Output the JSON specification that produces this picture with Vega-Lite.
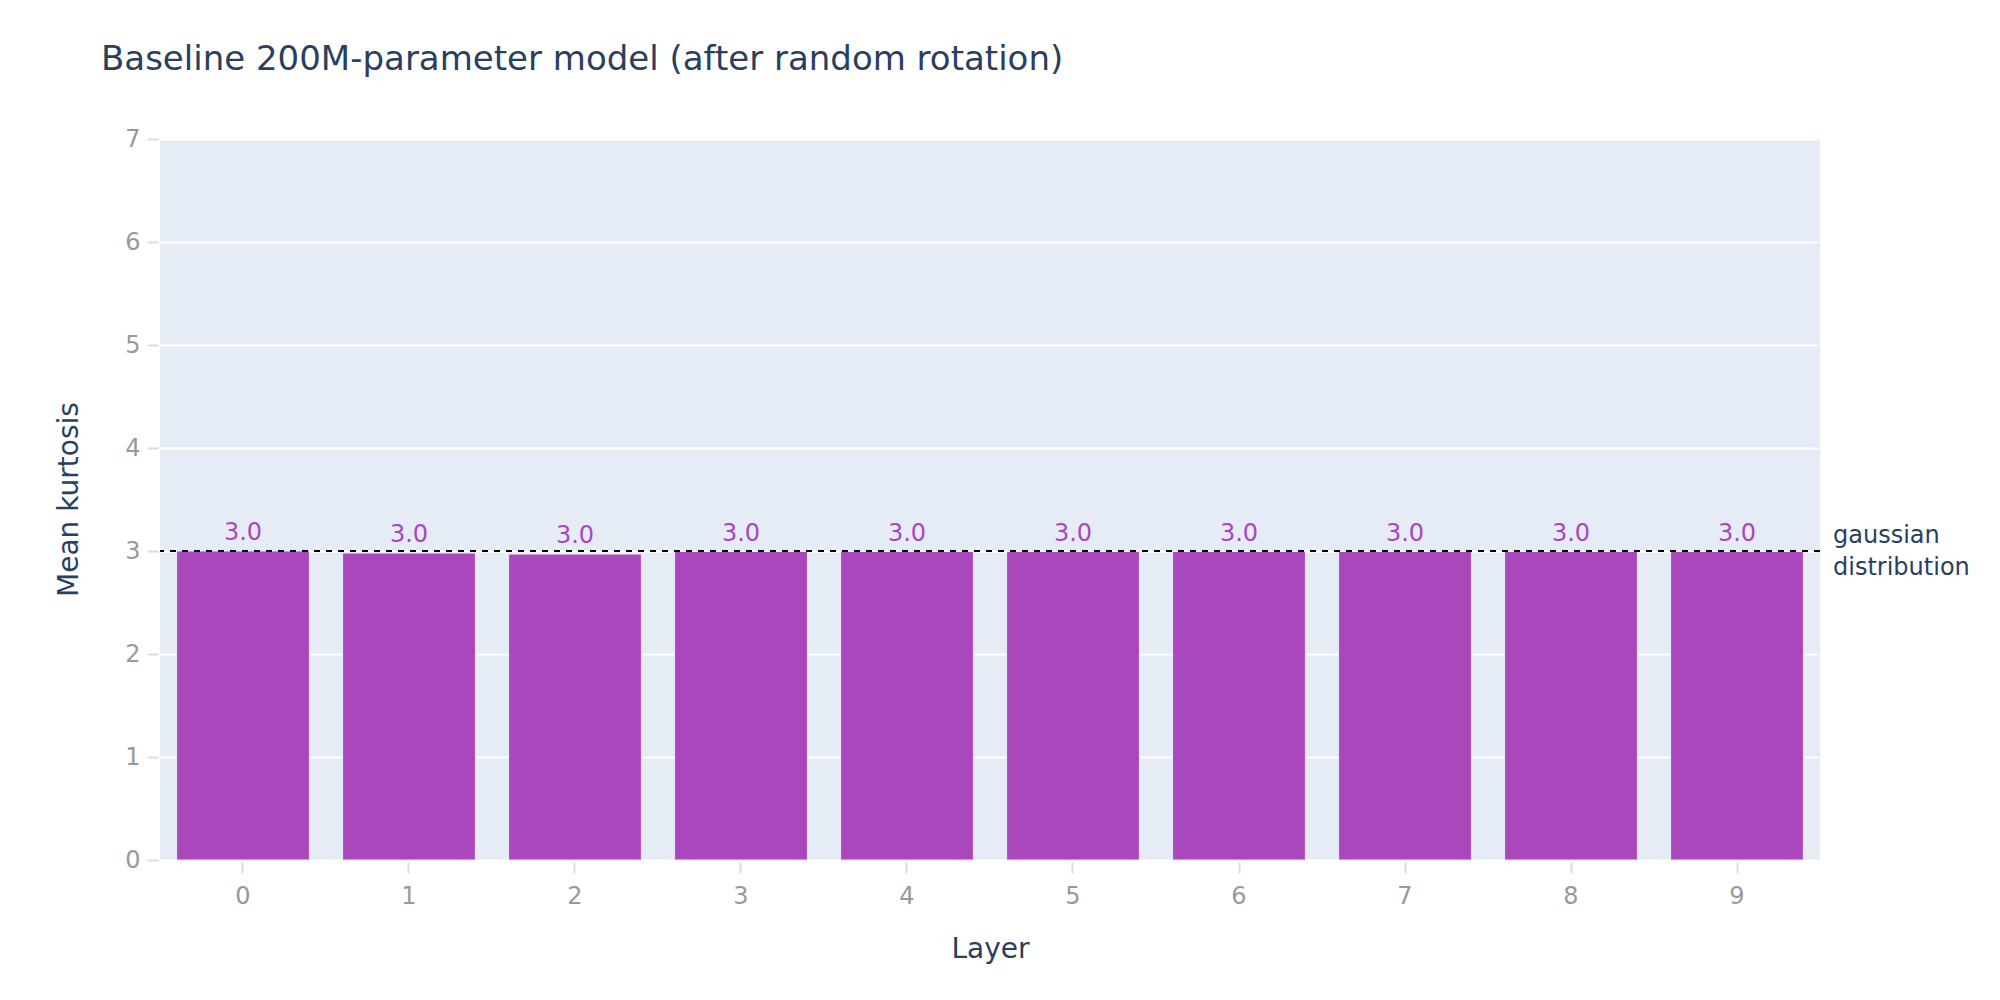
{
  "$schema": "https://vega.github.io/schema/vega-lite/v6.json",
  "autosize": {"type": "none"},
  "padding": {"left": 160, "top": 139, "right": 180, "bottom": 140},
  "width": 1660,
  "height": 721,
  "background": "#ffffff",
  "title": {
    "text": "Baseline 200M-parameter model (after random rotation)",
    "anchor": "start",
    "frame": "group",
    "dx": -59,
    "offset": 50,
    "font": "DejaVu Sans",
    "fontSize": 34,
    "fontWeight": "normal",
    "color": "#2a3f5f"
  },
  "datasets": {
    "kurtosis": [
      {"layer": 0, "kurtosis": 3.0},
      {"layer": 1, "kurtosis": 2.98},
      {"layer": 2, "kurtosis": 2.97},
      {"layer": 3, "kurtosis": 2.995},
      {"layer": 4, "kurtosis": 2.995},
      {"layer": 5, "kurtosis": 2.995},
      {"layer": 6, "kurtosis": 2.995},
      {"layer": 7, "kurtosis": 2.995},
      {"layer": 8, "kurtosis": 2.995},
      {"layer": 9, "kurtosis": 2.995}
    ],
    "reference": [
      {"layer": 9, "level": 3, "note": "gaussian\ndistribution"}
    ]
  },
  "encoding": {
    "x": {"field": "layer", "type": "ordinal", "title": "Layer"},
    "y": {
      "field": "kurtosis",
      "type": "quantitative",
      "title": "Mean kurtosis",
      "scale": {"domain": [0, 7]},
      "axis": {"values": [0, 1, 2, 3, 4, 5, 6, 7], "format": "d"}
    }
  },
  "layer": [
    {
      "data": {"name": "kurtosis"},
      "mark": {"type": "bar", "color": "#AB47BC", "stroke": "#E5ECF6", "strokeWidth": 1}
    },
    {
      "data": {"name": "kurtosis"},
      "mark": {"type": "text", "color": "#AB47BC", "font": "DejaVu Sans", "fontSize": 24, "baseline": "alphabetic", "align": "center", "dy": -11},
      "encoding": {
        "text": {"field": "kurtosis", "type": "quantitative", "format": ".1f"}
      }
    },
    {
      "data": {"name": "reference"},
      "mark": {"type": "rule", "color": "#000000", "strokeWidth": 2, "strokeDash": [6, 6]},
      "encoding": {
        "x": null,
        "y": {"field": "level", "type": "quantitative"}
      }
    },
    {
      "data": {"name": "reference"},
      "mark": {"type": "text", "color": "#2a3f5f", "font": "DejaVu Sans", "fontSize": 24, "align": "left", "baseline": "middle", "lineBreak": "\n", "lineHeight": 32, "dx": 96, "dy": -15},
      "encoding": {
        "y": {"field": "level", "type": "quantitative"},
        "text": {"field": "note", "type": "nominal"}
      }
    }
  ],
  "config": {
    "view": {"fill": "#E5ECF6", "stroke": null},
    "scale": {"bandPaddingInner": 0.2, "bandPaddingOuter": 0.1},
    "axisX": {
      "labelAngle": 0,
      "grid": false,
      "domain": false,
      "offset": 2,
      "tickSize": 11,
      "tickWidth": 2,
      "tickColor": "#dddddd",
      "labelPadding": 11,
      "labelFont": "DejaVu Sans",
      "labelFontSize": 24,
      "labelColor": "#999999",
      "titleFont": "DejaVu Sans",
      "titleFontSize": 28,
      "titleFontWeight": "normal",
      "titleColor": "#2a3f5f",
      "titleBaseline": "alphabetic",
      "titleY": 95
    },
    "axisY": {
      "grid": true,
      "gridColor": "#ffffff",
      "gridWidth": 2,
      "domain": false,
      "offset": 2,
      "tickSize": 11,
      "tickWidth": 2,
      "tickColor": "#dddddd",
      "labelPadding": 7,
      "labelFont": "DejaVu Sans",
      "labelFontSize": 24,
      "labelColor": "#999999",
      "titleFont": "DejaVu Sans",
      "titleFontSize": 28,
      "titleFontWeight": "normal",
      "titleColor": "#2a3f5f",
      "titleBaseline": "alphabetic",
      "titleAngle": -90,
      "titleX": -81,
      "titleY": 360
    }
  }
}
